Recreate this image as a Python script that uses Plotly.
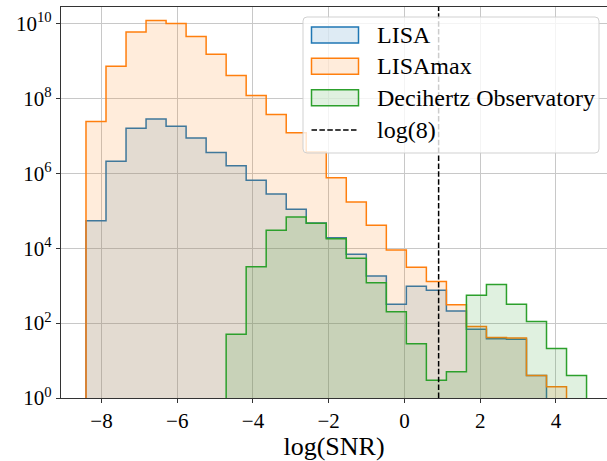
import numpy as np
import plotly.graph_objects as go

# Shared histogram binning for the three detector populations
bin_lo, bin_hi, n_bins = -8.41, 4.81, 25
edges = np.linspace(bin_lo, bin_hi, n_bins + 1)

lisa_counts = [5.4e4, 2.1e6, 1.6e7, 2.8e7, 1.8e7, 8.7e6, 3.6e6, 1.6e6, 6.5e5, 2.8e5,
               1.1e5, 4.7e4, 1.9e4, 6.9e3, 1.8e3, 320, 960, 750, 210, 69,
               38, 37, 4, 0, 0]
lisamax_counts = [2.4e7, 7.2e8, 5.9e9, 1.2e10, 1.0e10, 4.5e9, 1.5e9, 4.1e8, 1.2e8, 3.7e7,
                  1.2e7, 3.7e6, 7.6e5, 1.7e5, 4.1e4, 8.9e3, 3.1e3, 1.3e3, 310, 81,
                  41, 40, 4, 2, 0]
dho_counts = [0, 0, 0, 0, 0, 0, 0, 50, 3.2e3, 3.0e4,
              6.8e4, 4.6e4, 1.8e4, 5.4e3, 1.2e3, 200, 28, 3, 5, 550,
              1.07e3, 320, 110, 21, 4]

series_names = ["LISA", "LISAmax", "Decihertz Observatory"]
series_counts = [lisa_counts, lisamax_counts, dho_counts]
series_colors = [(31, 119, 180), (255, 127, 14), (44, 160, 44)]
fill_alpha = 0.15

snr_threshold = 8
y_tick_exponents = [0, 2, 4, 6, 8, 10]
x_ticks = [-8, -6, -4, -2, 0, 2, 4]

FONT = "Liberation Serif"
W, H = 607, 461
ML, MR, MT, MB = 61, 0, 7, 63
PW, PH = W - ML - MR, H - MT - MB


def step_outline(counts, baseline=1.0):
    """Step-histogram outline from the first to the last populated bin."""
    c = np.asarray(counts, dtype=float)
    nz = np.nonzero(c)[0]
    i0, i1 = nz[0], nz[-1] + 1
    xs, ys = [edges[i0]], [baseline]
    for i in range(i0, i1):
        h = c[i] if c[i] > 0 else baseline
        xs += [edges[i], edges[i + 1]]
        ys += [h, h]
    xs.append(edges[i1])
    ys.append(baseline)
    return xs, ys


def rgba(rgb, a):
    return f"rgba({rgb[0]},{rgb[1]},{rgb[2]},{a})"


fig = go.Figure()
for name, counts, col in zip(series_names, series_counts, series_colors):
    xs, ys = step_outline(counts)
    fig.add_trace(go.Scatter(
        x=xs, y=ys, mode="lines", fill="toself",
        fillcolor=rgba(col, fill_alpha),
        line=dict(color=rgba(col, 1), width=1.5, shape="linear"),
        name=name, showlegend=False, hoverinfo="skip",
    ))

# Detection threshold
thr = np.log10(snr_threshold)
shapes = [dict(type="line", xref="x", yref="paper", x0=thr, x1=thr, y0=0, y1=1,
               line=dict(color="black", width=1.5, dash="5.5px,2.4px"), layer="above")]


# Legend (pixel layout converted to paper coordinates)
def px(x):
    return (x - ML) / PW


def py(y):
    return (H - MB - y) / PH


bx0, bx1, by0, by1, r = 303, 599, 17, 153, 4
path = (f"M {px(bx0 + r)},{py(by0)} L {px(bx1 - r)},{py(by0)} "
        f"Q {px(bx1)},{py(by0)} {px(bx1)},{py(by0 + r)} "
        f"L {px(bx1)},{py(by1 - r)} Q {px(bx1)},{py(by1)} {px(bx1 - r)},{py(by1)} "
        f"L {px(bx0 + r)},{py(by1)} Q {px(bx0)},{py(by1)} {px(bx0)},{py(by1 - r)} "
        f"L {px(bx0)},{py(by0 + r)} Q {px(bx0)},{py(by0)} {px(bx0 + r)},{py(by0)} Z")
shapes.append(dict(type="path", xref="paper", yref="paper", path=path,
                   fillcolor="rgba(255,255,255,0.8)",
                   line=dict(color="rgba(204,204,204,0.9)", width=1), layer="above"))

annotations = []
row_y = [35, 66.3, 97.7, 130]
patch_x0, patch_x1, patch_h = 311.5, 358.5, 16
text_x = 375
legend_font = dict(family=FONT, size=24, color="black")
for name, col, yc in zip(series_names, series_colors, row_y[:3]):
    shapes.append(dict(type="rect", xref="paper", yref="paper",
                       x0=px(patch_x0), x1=px(patch_x1),
                       y0=py(yc + patch_h / 2), y1=py(yc - patch_h / 2),
                       fillcolor=rgba(col, fill_alpha),
                       line=dict(color=rgba(col, 1), width=1.5), layer="above"))
    annotations.append(dict(xref="paper", yref="paper", x=px(text_x), y=py(yc),
                            text=name, showarrow=False, xanchor="left", yanchor="middle",
                            font=legend_font))
shapes.append(dict(type="line", xref="paper", yref="paper",
                   x0=px(patch_x0), x1=px(patch_x1), y0=py(row_y[3]), y1=py(row_y[3]),
                   line=dict(color="black", width=1.5, dash="5.5px,2.4px"), layer="above"))
annotations.append(dict(xref="paper", yref="paper", x=px(text_x), y=py(row_y[3]),
                        text="log(8)", showarrow=False, xanchor="left", yanchor="middle",
                        font=legend_font))

axis_common = dict(
    showline=True, linecolor="#333333", linewidth=1.2,
    ticks="outside", ticklen=4, tickwidth=1.2, tickcolor="#333333",
    showgrid=True, gridcolor="#c8c8c8", gridwidth=1, zeroline=False,
    tickfont=dict(family=FONT, size=21, color="black"),
)

fig.update_layout(
    width=W, height=H,
    margin=dict(l=ML, r=MR, t=MT, b=MB),
    plot_bgcolor="white", paper_bgcolor="white",
    shapes=shapes, annotations=annotations,
    xaxis=dict(range=[-9.07, 5.35], tickvals=x_ticks, mirror=True,
               title=dict(text="log(SNR)", font=dict(family=FONT, size=26, color="black"),
                          standoff=2),
               **axis_common),
    yaxis=dict(type="log", range=[0, 10.44],
               tickvals=[10.0 ** k for k in y_tick_exponents],
               ticktext=[f"10<sup>{k}</sup>" for k in y_tick_exponents],
               **axis_common),
    showlegend=False,
)

fig.write_html("out.html")
